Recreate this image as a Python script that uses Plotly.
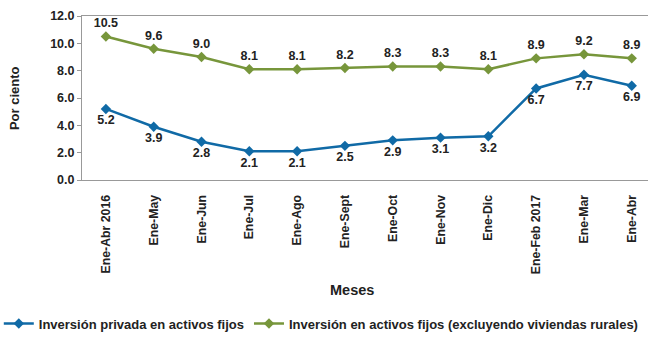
import plotly.graph_objects as go

categories = ["Ene-Abr 2016", "Ene-May", "Ene-Jun", "Ene-Jul", "Ene-Ago", "Ene-Sept",
              "Ene-Oct", "Ene-Nov", "Ene-Dic", "Ene-Feb 2017", "Ene-Mar", "Ene-Abr"]
privada = [5.2, 3.9, 2.8, 2.1, 2.1, 2.5, 2.9, 3.1, 3.2, 6.7, 7.7, 6.9]
excluyendo = [10.5, 9.6, 9.0, 8.1, 8.1, 8.2, 8.3, 8.3, 8.1, 8.9, 9.2, 8.9]
y_ticks = [0, 2, 4, 6, 8, 10, 12]

blue = "#106AA6"
green = "#77963B"
font = "Liberation Sans, Arial, sans-serif"
txt = "#222222"

fig = go.Figure()
fig.add_trace(go.Scatter(
    x=categories, y=privada, mode="lines+markers+text",
    name="<b>Inversión privada en activos fijos</b>",
    line=dict(color=blue, width=2.5),
    marker=dict(symbol="diamond", size=8, color=blue),
    text=[f"{v:.1f}" for v in privada], textposition="bottom center",
    texttemplate="<b>%{text}</b>",
    textfont=dict(family=font, size=12.5, color=txt),
    cliponaxis=False,
))
fig.add_trace(go.Scatter(
    x=categories, y=excluyendo, mode="lines+markers+text",
    name="<b>Inversión en activos fijos (excluyendo viviendas rurales)</b>",
    line=dict(color=green, width=2.5),
    marker=dict(symbol="diamond", size=8, color=green),
    text=[f"{v:.1f}" for v in excluyendo], textposition="top center",
    texttemplate="<b>%{text}</b>",
    textfont=dict(family=font, size=12.5, color=txt),
    cliponaxis=False,
))

fig.update_layout(
    width=648, height=341,
    margin=dict(l=82, r=0, t=16, b=161, autoexpand=False),
    paper_bgcolor="white", plot_bgcolor="white",
    font=dict(family=font, size=12, color=txt),
    showlegend=True,
    legend=dict(orientation="h", x=-0.147, xanchor="left", y=-0.875, yanchor="middle",
                font=dict(family=font, size=13, color=txt),
                itemwidth=30, tracegroupgap=0, bgcolor="rgba(0,0,0,0)"),
    xaxis=dict(
        range=[-0.5, 11.34], tickangle=-90, showgrid=False, zeroline=False,
        showline=True, linecolor="#999999", linewidth=1, mirror=True,
        ticks="outside", ticklen=9, tickcolor="rgba(0,0,0,0)",
        automargin=False,
        tickvals=categories, ticktext=[f"<b>{c}</b>" for c in categories],
        tickfont=dict(family=font, size=12.3, color=txt),
    ),
    yaxis=dict(
        range=[0, 12], tickvals=y_ticks, ticktext=[f"<b>{v:.1f}</b>" for v in y_ticks],
        showgrid=False, zeroline=False, showline=True, linecolor="#999999", linewidth=1,
        ticks="outside", ticklen=4, tickcolor="#999999", automargin=False,
        tickfont=dict(family=font, size=12.5, color=txt),
    ),
    annotations=[
        dict(text="<b>Meses</b>", xref="paper", yref="paper", x=0.477, y=-0.67,
             xanchor="center", yanchor="middle", showarrow=False,
             font=dict(family=font, size=14.5, color=txt)),
        dict(text="<b>Por ciento</b>", xref="paper", yref="paper", x=-0.12, y=0.5,
             xanchor="center", yanchor="middle", showarrow=False, textangle=-90,
             font=dict(family=font, size=13, color=txt)),
    ],
)

fig.write_html("out.html", config={"displayModeBar": False},
               post_script="document.body.style.margin='0';")
